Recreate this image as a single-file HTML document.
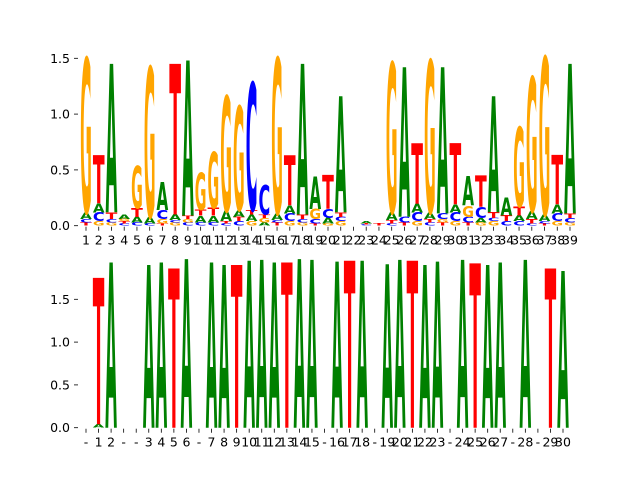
<!DOCTYPE html>
<html><head><meta charset="utf-8"><style>
body{margin:0;background:#fff}
svg text{font-family:"DejaVu Sans","Liberation Sans",sans-serif}
</style></head><body>
<svg id="chart" width="640" height="480" viewBox="0 0 640 480" xmlns="http://www.w3.org/2000/svg"></svg>
<script>
// top logo: letters stacked bottom->top, and their heights
const topLabels = ["1","2","3","4","5","6","7","8","9","10","11","12","13","14","15","16","17","18","19","20","21","22","23","24","25","26","27","28","29","30","31","32","33","34","35","36","37","38","39"];
const topLetters = ["TCAG","GCAT","GCTA","CTGA","CATG","CAG","TGCA","GCAT","CGTA","CATG","CATG","CTAG","CTAG","GATC","AGTC","TCAG","GCAT","GCTA","TCGA","GACT","GCTA","","CTA","T","CTAG","TCA","GCAT","CTAG","TGCA","GCAT","TCGA","GACT","GCTA","CTA","CATG","CTAG","TCAG","GCAT","GCTA"];
const topHeights = [[0.03,0.03,0.06,1.38],[0.04,0.08,0.08,0.43],[0.03,0.03,0.06,1.33],[0.02,0.02,0.02,0.04],[0.03,0.05,0.08,0.38],[0.02,0.06,1.34],[0.02,0.04,0.08,0.25],[0.03,0.02,0.05,1.35],[0.03,0.03,0.03,1.39],[0.03,0.06,0.05,0.33],[0.03,0.06,0.07,0.5],[0.02,0.02,0.09,1.03],[0.04,0.04,0.06,0.93],[0.04,0.06,0.04,1.14],[0.03,0.04,0.03,0.26],[0.03,0.02,0.06,1.39],[0.04,0.07,0.07,0.45],[0.03,0.03,0.04,1.35],[0.02,0.04,0.09,0.29],[0.02,0.05,0.08,0.3],[0.04,0.04,0.04,1.04],[],[0.01,0.01,0.02],[0.02],[0.02,0.03,0.07,1.34],[0.03,0.05,1.34],[0.04,0.08,0.08,0.54],[0.03,0.03,0.06,1.36],[0.03,0.03,0.05,1.31],[0.04,0.08,0.07,0.55],[0.03,0.05,0.1,0.26],[0.03,0.04,0.1,0.28],[0.04,0.03,0.05,1.04],[0.04,0.05,0.16],[0.04,0.05,0.08,0.71],[0.02,0.04,0.07,1.2],[0.02,0.02,0.06,1.41],[0.04,0.07,0.08,0.44],[0.03,0.04,0.04,1.34]];
const topTicks = [0,0.5,1.0,1.5];
// bottom logo
const botLabels = ["-","1","2","-","-","3","4","5","6","-","7","8","9","10","11","12","13","14","15","-","16","17","18","-","19","20","21","22","23","-","24","25","26","27","-","28","-","29","30"];
const botLetters = ["","AT","A","","","A","A","T","A","","A","A","T","A","A","A","T","A","A","","A","T","A","","A","A","T","A","A","","A","T","A","A","","A","","T","A"];
const botHeights = [[],[0.04,1.71],[1.93],[],[],[1.9],[1.93],[1.86],[1.97],[],[1.93],[1.9],[1.9],[1.95],[1.96],[1.93],[1.93],[1.97],[1.96],[],[1.94],[1.95],[1.95],[],[1.91],[1.96],[1.95],[1.9],[1.94],[],[1.96],[1.92],[1.9],[1.93],[],[1.96],[],[1.86],[1.83]];
const botTicks = [0,0.5,1.0,1.5];

const colors = {A:"#008000",C:"#0000ff",G:"#ffa500",T:"#ff0000"};
const NS = "http://www.w3.org/2000/svg";
const svg = document.getElementById("chart");

function panel(name, labels, letters, heights, ticks, x0, x1, y0, ppu){
  const g = document.createElementNS(NS,"g");
  
  
  svg.appendChild(g);
  const n = labels.length;
  const step = (x1-x0)/(n-1);
  const xs = i => x0 + i*step;
  const ys = v => y0 - v*ppu;
  const w = step*0.92;
  // y ticks
  ticks.forEach(t=>{
    const ln = document.createElementNS(NS,"line");
    
    
    ln.setAttribute("x1",74);ln.setAttribute("x2",78);
    ln.setAttribute("y1",ys(t));ln.setAttribute("y2",ys(t));
    ln.setAttribute("stroke","#000");ln.setAttribute("stroke-width","0.8");
    g.appendChild(ln);
    const tx = document.createElementNS(NS,"text");
    
    
    tx.setAttribute("x",70);tx.setAttribute("y",ys(t)+4.5);
    tx.setAttribute("text-anchor","end");tx.setAttribute("font-size","12.5");
    tx.textContent = t.toFixed(1);
    g.appendChild(tx);
  });
  labels.forEach((lab,i)=>{
    const ln = document.createElementNS(NS,"line");
    
    
    ln.setAttribute("x1",xs(i));ln.setAttribute("x2",xs(i));
    ln.setAttribute("y1",y0+1);ln.setAttribute("y2",y0+5);
    ln.setAttribute("stroke","#000");ln.setAttribute("stroke-width","0.8");
    g.appendChild(ln);
    const tx = document.createElementNS(NS,"text");
    
    
    tx.setAttribute("x",xs(i));tx.setAttribute("y",y0+19);
    tx.setAttribute("text-anchor","middle");tx.setAttribute("font-size","12.5");
    tx.textContent = lab;
    g.appendChild(tx);
    // letters
    let cum = 0;
    const ls = letters[i];
    for(let k=0;k<ls.length;k++){
      const h = heights[i][k];
      const L = ls[k];
      const yb = ys(cum), yt = ys(cum+h);
      cum += h;
      const ph = yb-yt;
      if(ph<=0.2) continue;
      const t = document.createElementNS(NS,"text");
      
      
      t.setAttribute("x",0);t.setAttribute("y",0);
      t.setAttribute("font-size","100");t.setAttribute("font-weight","bold");
      t.setAttribute("textLength","72");t.setAttribute("lengthAdjust","spacingAndGlyphs");
      t.setAttribute("fill",colors[L]);
      t.setAttribute("transform",`translate(${xs(i)-w/2},${yb}) scale(${w/72},${ph/72.9})`);
      t.textContent = L;
      g.appendChild(t);
    }
  });
}
panel("top-logo", topLabels, topLetters, topHeights, topTicks, 86, 570, 225.7, 111.6);
panel("bottom-logo", botLabels, botLetters, botHeights, botTicks, 86, 563, 427.7, 85.6);
</script>
</body></html>
